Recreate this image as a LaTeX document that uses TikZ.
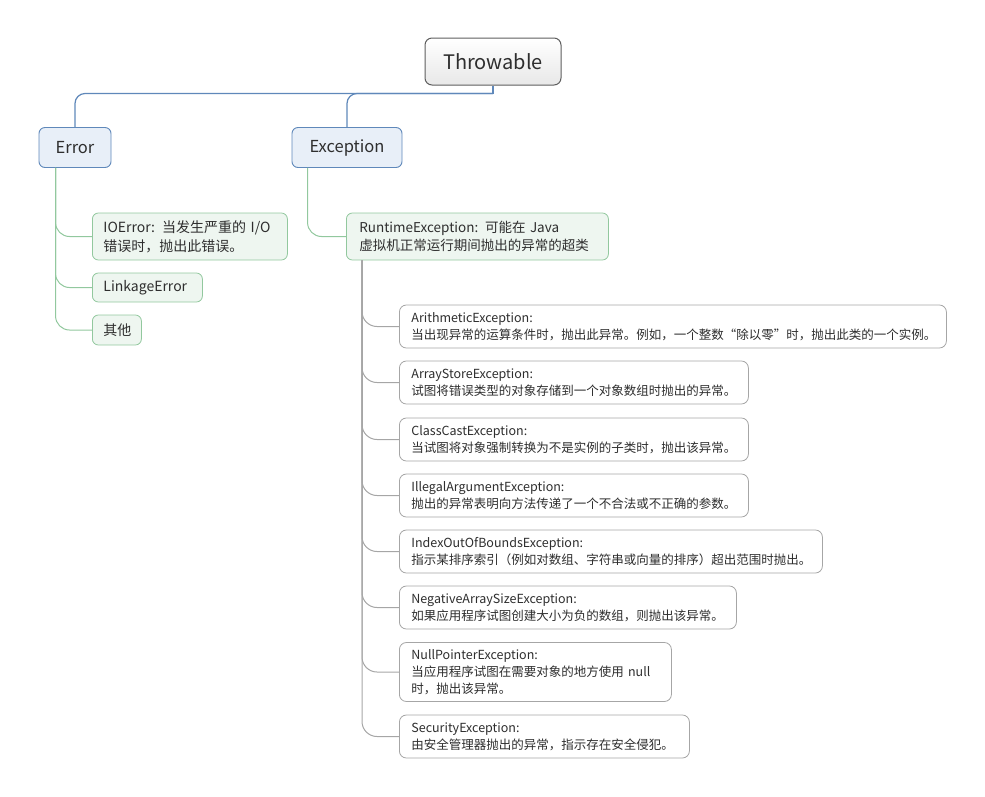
\documentclass[tikz,border=0pt]{standalone}
\usepackage{fontspec}
\setmainfont{Noto Sans CJK SC}
\usetikzlibrary{calc}

\definecolor{textgray}{HTML}{2E2E2E}
\definecolor{rootline}{HTML}{5E5E5E}
\definecolor{mainline}{HTML}{5F88BA}
\definecolor{mainfill}{HTML}{E8EFF8}
\definecolor{subline}{HTML}{92C89E}
\definecolor{subfill}{HTML}{EEF6F0}
\definecolor{leafline}{HTML}{A6A6A6}

\begin{document}
\begin{tikzpicture}[x=1pt,y=-1pt,
  root/.style={draw=rootline,line width=1pt,rounded corners=7pt,top color=white,bottom color=black!9,
    minimum width=136pt,minimum height=47pt,inner sep=0pt,text=textgray,font=\fontsize{20}{24}\selectfont},
  mainbox/.style={draw=mainline,fill=mainfill,line width=0.9pt,rounded corners=6pt,minimum height=40pt,
    inner sep=0pt,text=textgray,font=\fontsize{16.5}{20}\selectfont},
  subbox/.style={draw=subline,fill=subfill,line width=0.8pt,rounded corners=6pt,anchor=west,align=left,
    inner xsep=11pt,inner ysep=0pt,text=textgray,font=\fontsize{14}{19}\selectfont},
  leaf/.style={draw=leafline,fill=white,line width=0.8pt,rounded corners=7pt,anchor=west,align=left,
    inner xsep=12pt,inner ysep=0pt,minimum height=43pt,text=textgray,font=\fontsize{12.5}{17}\selectfont},
  bluelink/.style={draw=mainline,line width=1.2pt,rounded corners=10pt},
  greenlink/.style={draw=subline,line width=1pt,rounded corners=14pt},
  graylink/.style={draw=leafline,line width=1pt,rounded corners=15pt}]

  \useasboundingbox (0,0) rectangle (985,796);

  % Draw the top of the tree
  \node[root] (throw) at (493,61.5) {Throwable};
  \node[mainbox,minimum width=72pt] (error) at (75,147.5) {Error};
  \node[mainbox,minimum width=110pt] (exc) at (347,147.5) {Exception};

  \coordinate (tj) at ($(throw.south)+(0,8)$);
  \draw[bluelink] (throw.south) -- (tj);
  \draw[bluelink] (tj) -| (error.north);
  \draw[bluelink] (tj) -| (exc.north);

  % Draw the Error branch
  \node[subbox,text width=173pt,minimum height=47pt] (ioerr) at (92,236.5) {IOError: 当发生严重的~I/O\\错误时，抛出此错误。};
  \node[subbox,text width=88pt,minimum height=29pt] (linkerr) at (92,287.5) {LinkageError};
  \node[subbox,text width=27pt,minimum height=30pt] (other) at (92,330) {其他};

  \coordinate (ej) at ($(error.south west)+(17,0)$);
  \foreach \kid in {ioerr,linkerr,other}
    \draw[greenlink] (ej) |- (\kid.west);

  % Draw the Exception branch
  \node[subbox,inner xsep=13pt,text width=236pt,minimum height=47pt,font=\fontsize{13.5}{18.5}\selectfont]
    (runtime) at (346,236.5) {RuntimeException: 可能在~Java\\虚拟机正常运行期间抛出的异常的超类};

  \coordinate (xj) at ($(exc.south west)+(16,0)$);
  \draw[greenlink] (xj) |- (runtime.west);

  % Draw the runtime exceptions
  \node[leaf,text width=523pt] (arith) at (399,326.5) {ArithmeticException:\\当出现异常的运算条件时，抛出此异常。例如，一个整数“除以零”时，抛出此类的一个实例。};
  \node[leaf,text width=325pt] (arrstore) at (399,382.5) {ArrayStoreException:\\试图将错误类型的对象存储到一个对象数组时抛出的异常。};
  \node[leaf,text width=325pt] (cast) at (399,439.5) {ClassCastException:\\当试图将对象强制转换为不是实例的子类时，抛出该异常。};
  \node[leaf,text width=325pt] (illarg) at (399,495.5) {IllegalArgumentException:\\抛出的异常表明向方法传递了一个不合法或不正确的参数。};
  \node[leaf,text width=399pt] (index) at (399,551.5) {IndexOutOfBoundsException:\\指示某排序索引（例如对数组、字符串或向量的排序）超出范围时抛出。};
  \node[leaf,text width=313pt] (negsize) at (399,607.5) {NegativeArraySizeException:\\如果应用程序试图创建大小为负的数组，则抛出该异常。};
  \node[leaf,text width=248pt,minimum height=59pt] (nullptr) at (399,672) {NullPointerException:\\当应用程序试图在需要对象的地方使用~null\\时，抛出该异常。};
  \node[leaf,text width=266pt] (security) at (399,736.5) {SecurityException:\\由安全管理器抛出的异常，指示存在安全侵犯。};

  \coordinate (rj) at ($(runtime.south west)+(16,0)$);
  \foreach \kid in {arith,arrstore,cast,illarg,index,negsize,nullptr,security}
    \draw[graylink] (rj) |- (\kid.west);

\end{tikzpicture}
\end{document}
